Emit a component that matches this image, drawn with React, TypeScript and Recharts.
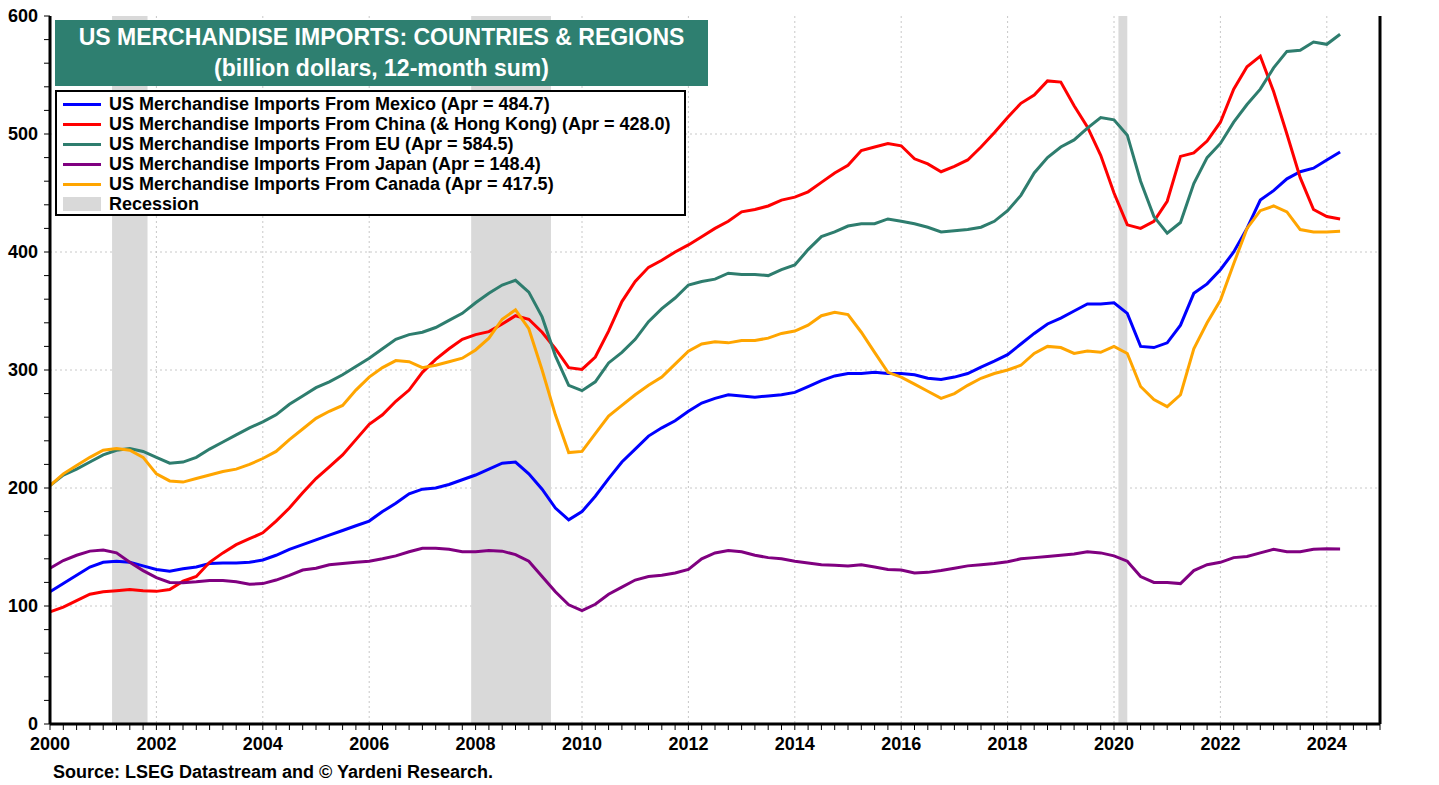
import React from 'react';
import {
  LineChart,
  Line,
  XAxis,
  YAxis,
  CartesianGrid,
  ReferenceArea,
} from 'recharts';

// quarterly points (Jan, Apr, Jul, Oct), Jan 2000 .. Apr 2024
const dates: number[] = [];
for (let y = 2000; y <= 2024; y++) {
  for (let q = 0; q < 4; q++) {
    const d = y + q / 4;
    if (d <= 2024.25) dates.push(d);
  }
}

const mexico = [
  112, 119, 126, 133, // 2000
  137, 138, 137, 134,
  131, 129.5, 131.5, 133,
  136, 136.5, 136.5, 137,
  139, 143, 148, 152,
  156, 160, 164, 168, // 2005
  172, 180, 187, 195,
  199, 200, 203, 207,
  211, 216, 221, 222,
  212, 199, 183, 173,
  180, 193, 208, 222, // 2010
  233, 244, 251, 257,
  265, 272, 276, 279,
  278, 277, 278, 279,
  281, 286, 291, 295,
  297, 297, 298, 297, // 2015
  297, 296, 293, 292,
  294, 297, 302.5, 307.5,
  313, 322, 331, 339,
  344, 350, 356, 356,
  357, 348, 320, 319, // 2020
  323, 338, 365, 373,
  385, 400, 420, 444,
  452, 462, 468, 471,
  478, 484.7,
];

const china = [
  95, 99, 104.5, 110, // 2000
  112, 113, 114, 113,
  112.4, 114, 121, 125,
  137, 145, 152, 157,
  162, 172, 183, 196,
  208, 218, 228, 241, // 2005
  254, 262, 273.5, 283,
  298, 309, 318, 326,
  330, 332.5, 339, 346,
  343, 332, 318, 302,
  300.5, 311, 333, 358, // 2010
  375, 387, 393, 400,
  406, 413, 420, 426,
  434, 436, 439, 444,
  446.5, 451, 459, 467,
  473.5, 486, 489, 492, // 2015
  490, 479, 474.6, 468,
  472.5, 478, 489, 501,
  514, 526, 533, 545,
  544, 524, 506, 482,
  450, 423, 420, 426, // 2020
  443, 481, 484, 494,
  510, 538, 557, 566,
  536, 500, 463, 436,
  430, 428,
];

const eu = [
  202, 211, 216, 222, // 2000
  228, 232, 233.5, 231,
  226, 221, 222, 226,
  233, 239, 245, 251,
  256, 262, 271, 278,
  285, 290, 296, 303, // 2005
  310, 318, 326, 330,
  332, 336, 342, 348,
  357, 365, 372, 376,
  366, 345, 312, 287,
  282.5, 290, 306, 315, // 2010
  326, 341, 352, 361,
  372, 375, 377, 382,
  381, 381, 380, 385,
  389, 402, 413, 417,
  422, 424, 424, 428, // 2015
  426, 424, 421, 417,
  418, 419, 421, 426,
  435, 448, 467, 480,
  489, 495, 505, 514,
  512, 499, 460, 430, // 2020
  416, 425, 458, 480,
  492, 510, 525, 538,
  556, 570, 571, 578,
  576, 584.5,
];

const japan = [
  132, 138.5, 143, 146.5, // 2000
  147.5, 145, 137, 130,
  124, 120, 119.7, 120.5,
  121.6, 121.6, 120.5, 118.5,
  119, 122, 126, 130.5,
  132, 135, 136, 137, // 2005
  138, 140, 142.5, 146,
  149, 149, 148, 146,
  146, 147, 146.5, 143.5,
  138, 125, 112, 101,
  96, 101.5, 110, 116, // 2010
  122, 125, 126, 128,
  131, 140, 145, 147,
  146, 143, 141, 140,
  138, 136.5, 135, 134.5,
  134, 135, 133, 131, // 2015
  130.5, 128, 128.5, 130,
  132, 134, 135, 136,
  137.5, 140, 141, 142,
  143, 144, 146, 145,
  142.5, 138, 125, 120, // 2020
  120, 119, 130, 135,
  137, 141, 142, 145,
  148, 146, 146, 148,
  148.5, 148.4,
];

const canada = [
  202, 212, 219, 226, // 2000
  232, 233.5, 232, 226,
  212, 206, 205, 208,
  211, 214, 216, 220,
  225, 231, 241, 250,
  259, 265, 270, 283, // 2005
  294, 302, 308, 307,
  302, 304, 307, 310,
  317, 327, 343, 351,
  335, 300, 262, 230,
  231, 246, 261, 270, // 2010
  279, 287, 294, 305,
  316, 322, 324, 323,
  325, 325, 327, 331,
  333, 338, 346, 349,
  347, 332, 315, 298, // 2015
  294, 288, 282, 276,
  280, 287, 293, 297,
  300, 304, 314, 320,
  319, 314, 316, 315,
  320, 314, 286, 275, // 2020
  269, 279, 318, 340,
  359, 390, 420, 435,
  439, 434, 419, 417,
  417, 417.5,
];

const recessions = [
  [2001 + 2 / 12, 2001 + 10 / 12],
  [2007 + 11 / 12, 2009 + 5 / 12],
  [2020 + 1 / 12, 2020 + 3 / 12],
];

const majorYears = [2000, 2002, 2004, 2006, 2008, 2010, 2012, 2014, 2016, 2018, 2020, 2022, 2024];
const yLabels = [0, 100, 200, 300, 400, 500, 600];

const series = [
  { key: 'mexico', name: 'US Merchandise Imports From Mexico (Apr = 484.7)', color: '#0000ff', values: mexico },
  { key: 'china', name: 'US Merchandise Imports From China (& Hong Kong) (Apr = 428.0)', color: '#ff0000', values: china },
  { key: 'eu', name: 'US Merchandise Imports From EU (Apr = 584.5)', color: '#2e7d6e', values: eu },
  { key: 'japan', name: 'US Merchandise Imports From Japan (Apr = 148.4)', color: '#800080', values: japan },
  { key: 'canada', name: 'US Merchandise Imports From Canada (Apr = 417.5)', color: '#ffa500', values: canada },
];

const data = dates.map((d, i) => {
  const row: any = { date: d };
  series.forEach(s => { row[s.key] = s.values[i]; });
  return row;
});

const xTicks: number[] = [];
for (let q = 0; q <= 100; q++) xTicks.push(2000 + q / 4);
const yTicks: number[] = [];
for (let v = 0; v <= 600; v += 20) yTicks.push(v);

const FONT = '"Liberation Sans", Arial, sans-serif';

const XTick = (props: any) => {
  const { x, y, payload } = props;
  if (!majorYears.includes(payload.value)) return null;
  return (
    <text x={x} y={y} dy="0.72em" textAnchor="middle" fontSize={18} fontWeight="bold" fill="#000" fontFamily={FONT}>
      {payload.value}
    </text>
  );
};

const YTick = (props: any) => {
  const { x, y, payload, side } = props;
  if (!yLabels.includes(payload.value)) return null;
  return (
    <text x={x} y={y} dy="0.36em" textAnchor={side === 'left' ? 'end' : 'start'} fontSize={18} fontWeight="bold" fill="#000" fontFamily={FONT}>
      {payload.value}
    </text>
  );
};

export default function App() {
  return (
    <div style={{ position: 'absolute', left: 0, top: 0, width: 1439, height: 785, background: '#fff', fontFamily: FONT }}>
      <LineChart width={1439} height={785} data={data} margin={{ top: 16, right: 0, bottom: 31, left: 0 }}>
        <CartesianGrid
          stroke="#c8c8c8"
          strokeDasharray="2 3"
          horizontalValues={[100, 200, 300, 400, 500]}
          verticalValues={[2002, 2004, 2006, 2008, 2010, 2012, 2014, 2016, 2018, 2020, 2022, 2024]}
        />
        {recessions.map(([a, b], i) => (
          <ReferenceArea key={i} x1={a} x2={b} y1={0} y2={600} fill="#d9d9d9" fillOpacity={1} stroke="none" />
        ))}
        <XAxis
          dataKey="date"
          type="number"
          domain={[2000, 2025]}
          ticks={xTicks}
          interval={0}
          height={30}
          tickSize={6}
          tickMargin={7}
          tick={<XTick />}
          axisLine={{ stroke: '#000', strokeWidth: 3 }}
          tickLine={{ stroke: '#000', strokeWidth: 1 }}
        />
        <XAxis
          xAxisId="top"
          orientation="top"
          type="number"
          domain={[2000, 2025]}
          height={0}
          tick={false}
          tickLine={false}
          axisLine={{ stroke: '#000', strokeWidth: 2 }}
        />
        <YAxis
          type="number"
          domain={[0, 600]}
          ticks={yTicks}
          interval={0}
          width={50}
          tickSize={6}
          tickMargin={6}
          tick={<YTick side="left" />}
          axisLine={{ stroke: '#000', strokeWidth: 3 }}
          tickLine={{ stroke: '#000', strokeWidth: 1 }}
        />
        <YAxis
          yAxisId="right"
          orientation="right"
          type="number"
          domain={[0, 600]}
          ticks={yTicks}
          interval={0}
          width={59}
          tickSize={6}
          tickMargin={4}
          tick={<YTick side="right" />}
          axisLine={{ stroke: '#000', strokeWidth: 3 }}
          tickLine={{ stroke: '#000', strokeWidth: 1 }}
        />
        {series.map(s => (
          <Line
            key={s.key}
            type="linear"
            dataKey={s.key}
            stroke={s.color}
            strokeWidth={3}
            dot={false}
            isAnimationActive={false}
          />
        ))}
      </LineChart>

      <div style={{
        position: 'absolute', left: 55, top: 20, width: 653, height: 66, background: '#2e7f70',
        color: '#fff', fontWeight: 'bold', fontSize: 23, textAlign: 'center', lineHeight: '31px', paddingTop: 2, boxSizing: 'border-box',
      }}>
        <div>US MERCHANDISE IMPORTS: COUNTRIES &amp; REGIONS</div>
        <div>(billion dollars, 12-month sum)</div>
      </div>

      <div style={{
        position: 'absolute', left: 55, top: 90, width: 631, height: 126, background: '#fff',
        border: '2px solid #000', boxSizing: 'border-box', padding: '2px 0 0 6px',
      }}>
        {series.map(s => (
          <div key={s.key} style={{ display: 'flex', alignItems: 'center', height: 20 }}>
            <div style={{ width: 38, height: 3, background: s.color, marginRight: 8 }} />
            <span style={{ fontSize: 18, fontWeight: 'bold', color: '#000', whiteSpace: 'nowrap' }}>{s.name}</span>
          </div>
        ))}
        <div style={{ display: 'flex', alignItems: 'center', height: 20 }}>
          <div style={{ width: 38, height: 14, background: '#d9d9d9', marginRight: 8 }} />
          <span style={{ fontSize: 18, fontWeight: 'bold', color: '#000' }}>Recession</span>
        </div>
      </div>

      <div style={{ position: 'absolute', left: 53, top: 762, fontSize: 18, fontWeight: 'bold', color: '#000', whiteSpace: 'nowrap' }}>
        Source: LSEG Datastream and © Yardeni Research.
      </div>
    </div>
  );
}
